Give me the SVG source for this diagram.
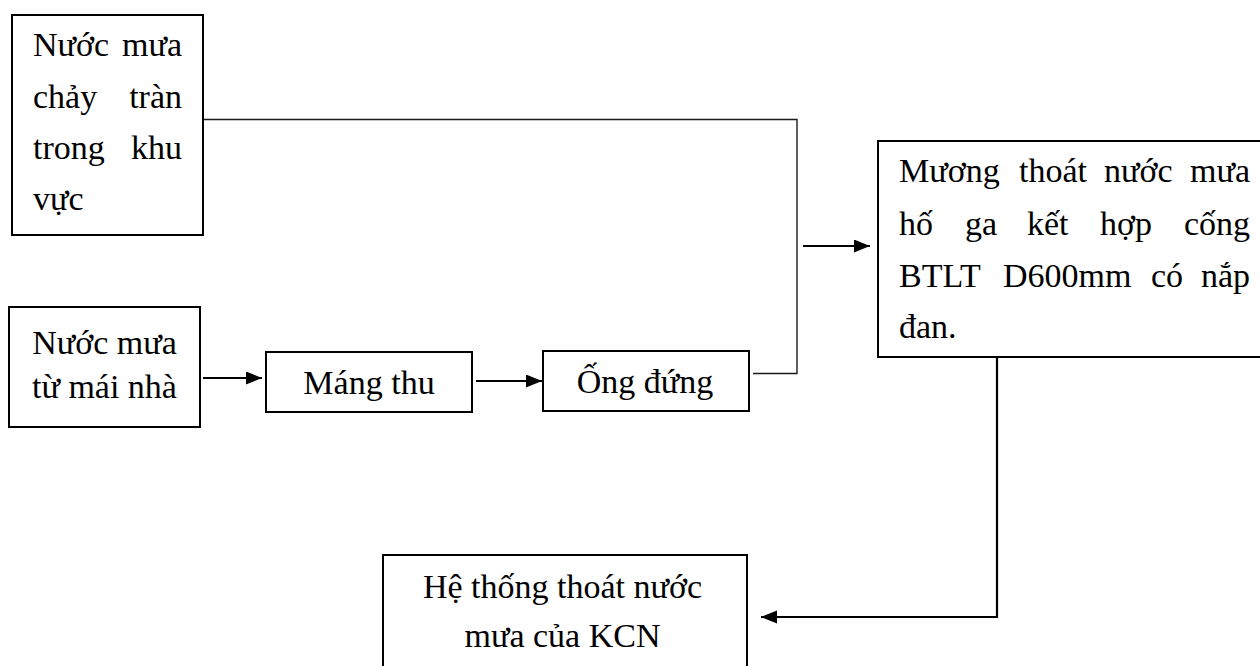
<svg xmlns="http://www.w3.org/2000/svg" width="1260" height="666" viewBox="0 0 1260 666">
  <defs>
    <style>
      .box { fill: #ffffff; stroke: #000000; stroke-width: 2; }
      .t { font-family: "Liberation Serif", "Times New Roman", serif; font-size: 34px; fill: #000000; }
      .c { text-anchor: middle; }
      .e { text-anchor: end; }
      .thin { fill: none; stroke: #1a1a1a; stroke-width: 1.4; }
      .arrow { fill: none; stroke: #000000; stroke-width: 2.2; marker-end: url(#head); }
    </style>
    <marker id="head" markerUnits="userSpaceOnUse" markerWidth="17" markerHeight="14" refX="16" refY="6.5" orient="auto">
      <path d="M0,0 L16,6.5 L0,13 Z" fill="#000000"/>
    </marker>
  </defs>
  <rect width="1260" height="666" fill="#ffffff"/>

  <!-- connectors -->
  <g id="connectors">
    <polyline class="thin" points="203,119.5 797,119.5 797,373.5 753,373.5"/>
    <line class="arrow" x1="203" y1="378" x2="262" y2="378"/>
    <line class="arrow" x1="476" y1="381" x2="542" y2="381"/>
    <line class="arrow" x1="803" y1="246" x2="870" y2="246"/>
    <polyline class="arrow" points="997,357 997,617 761,617"/>
  </g>

  <!-- surface runoff -->
  <g id="node-runoff">
    <rect class="box" x="12" y="15" width="191" height="220"/>
    <text class="t" x="33" y="56">Nước</text><text class="t e" x="182" y="56">mưa</text>
    <text class="t" x="33" y="108">chảy</text><text class="t e" x="182" y="108">tràn</text>
    <text class="t" x="33" y="159">trong</text><text class="t e" x="182" y="159">khu</text>
    <text class="t" x="33" y="210">vực</text>
  </g>

  <!-- roof water -->
  <g id="node-roof">
    <rect class="box" x="9" y="307" width="191" height="120"/>
    <text class="t c" x="104.5" y="354">Nước mưa</text>
    <text class="t c" x="104.5" y="398">từ mái nhà</text>
  </g>

  <!-- gutter -->
  <g id="node-gutter">
    <rect class="box" x="266" y="352" width="206" height="60"/>
    <text class="t c" x="369" y="394">Máng thu</text>
  </g>

  <!-- downpipe -->
  <g id="node-downpipe">
    <rect class="box" x="543" y="351" width="206" height="60"/>
    <text class="t c" x="645" y="393">Ống đứng</text>
  </g>

  <!-- drainage ditch -->
  <g id="node-ditch">
    <rect class="box" x="878" y="141" width="390" height="216"/>
    <text class="t" x="899" y="182">Mương</text><text class="t" x="1019" y="182">thoát</text><text class="t" x="1104" y="182">nước</text><text class="t e" x="1250" y="182">mưa</text>
    <text class="t" x="899" y="235">hố</text><text class="t" x="965" y="235">ga</text><text class="t" x="1027" y="235">kết</text><text class="t" x="1100" y="235">hợp</text><text class="t e" x="1250" y="235">cống</text>
    <text class="t" x="899" y="287">BTLT</text><text class="t" x="1003" y="287">D600mm</text><text class="t" x="1151" y="287">có</text><text class="t e" x="1250" y="287">nắp</text>
    <text class="t" x="899" y="338">đan.</text>
  </g>

  <!-- industrial park system -->
  <g id="node-kcn">
    <rect class="box" x="383" y="555" width="364" height="130"/>
    <text class="t c" x="562.5" y="598">Hệ thống thoát nước</text>
    <text class="t c" x="562.5" y="647">mưa của KCN</text>
  </g>
</svg>
